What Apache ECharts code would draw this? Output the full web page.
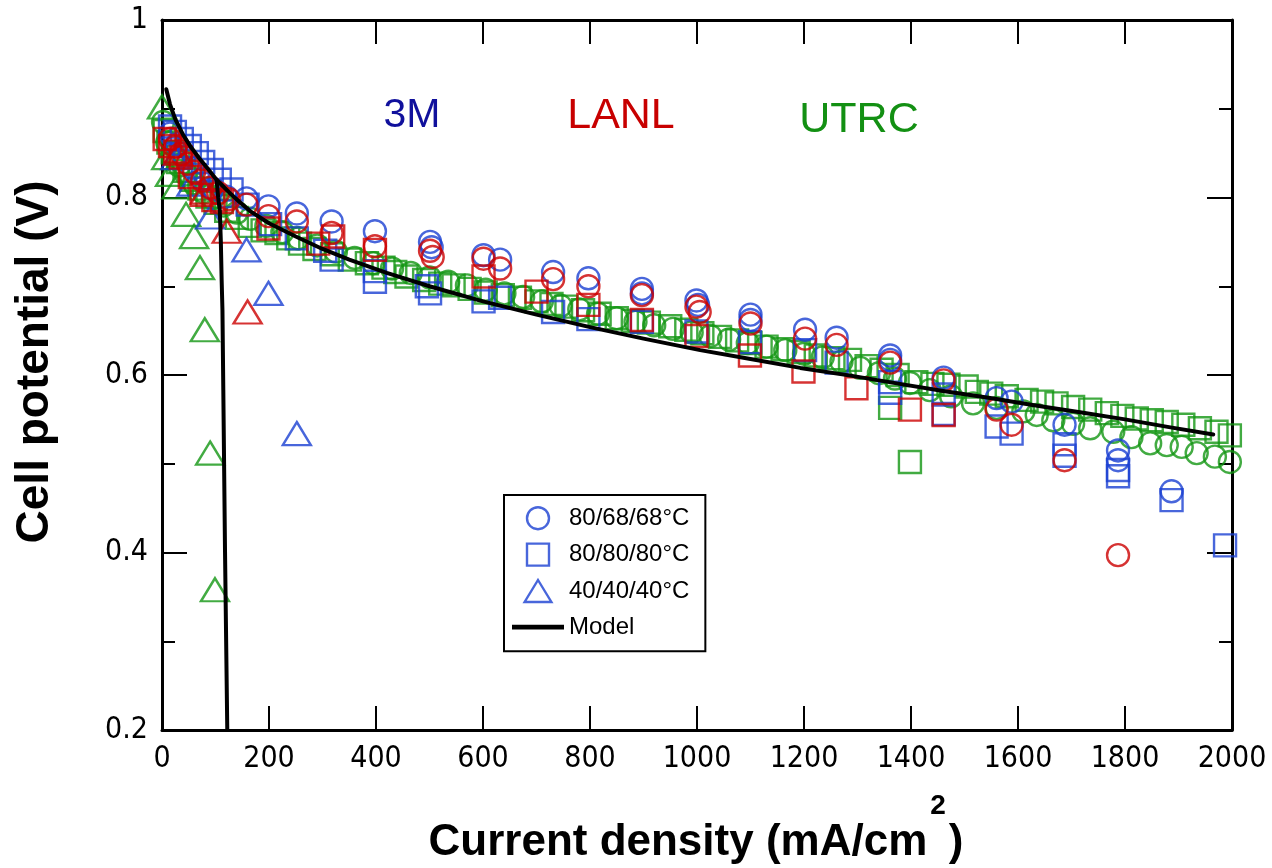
<!DOCTYPE html>
<html>
<head>
<meta charset="utf-8">
<title>Polarization curves</title>
<script src="https://cdn.jsdelivr.net/npm/echarts@6/dist/echarts.min.js"></script>
<style>
  html, body { margin: 0; padding: 0; background: #fff; }
  #chart { width: 1272px; height: 868px; }
</style>
</head>
<body>
<div id="chart"></div>
<script>
// Axis ticks
const xTicks = [0, 200, 400, 600, 800, 1000, 1200, 1400, 1600, 1800, 2000];
const yTicks = [0.2, 0.4, 0.6, 0.8, 1];

// Legend / condition labels
const conditions = ['80/68/68°C', '80/80/80°C', '40/40/40°C'];
const labs = ['3M', 'LANL', 'UTRC'];

// 3M  [current density mA/cm2, cell potential V]
const m3Circle = [[15,0.872],[28,0.860],[42,0.846],[58,0.833],[75,0.821],[95,0.810],[120,0.801],[158,0.799],[199,0.790],[252,0.782],[317,0.773],[398,0.762],[501,0.750],[504,0.744],[601,0.735],[632,0.730],[731,0.716],[797,0.709],[897,0.697],[897,0.692],[999,0.684],[1002,0.679],[1100,0.668],[1100,0.662],[1202,0.651],[1261,0.642],[1361,0.622],[1361,0.617],[1461,0.597],[1560,0.574],[1588,0.570],[1687,0.544],[1787,0.515],[1787,0.504],[1887,0.469]];
const m3Square = [[15,0.880],[24,0.874],[37,0.866],[52,0.858],[65,0.850],[77,0.840],[93,0.831],[108,0.820],[130,0.809],[160,0.792],[202,0.770],[252,0.754],[305,0.740],[317,0.730],[398,0.717],[398,0.705],[495,0.700],[501,0.692],[601,0.683],[632,0.687],[731,0.671],[797,0.663],[897,0.660],[999,0.649],[1099,0.637],[1202,0.628],[1261,0.614],[1361,0.592],[1361,0.580],[1461,0.578],[1461,0.556],[1560,0.542],[1588,0.534],[1687,0.522],[1687,0.509],[1787,0.493],[1787,0.486],[1887,0.459],[1987,0.408]];
const m3Tri = [[25,0.845],[55,0.815],[90,0.778],[158,0.741],[199,0.692],[252,0.534]];

// LANL
const lanlCircle = [[15,0.866],[25,0.857],[35,0.849],[48,0.838],[60,0.829],[75,0.819],[90,0.811],[105,0.805],[125,0.798],[158,0.792],[199,0.779],[252,0.773],[317,0.760],[398,0.745],[501,0.740],[506,0.733],[601,0.731],[632,0.720],[731,0.708],[797,0.700],[897,0.690],[999,0.677],[1005,0.671],[1100,0.658],[1202,0.641],[1261,0.634],[1361,0.614],[1461,0.594],[1560,0.561],[1588,0.544],[1687,0.504],[1787,0.397]];
const lanlSquare = [[5,0.866],[15,0.858],[25,0.852],[35,0.845],[52,0.823],[74,0.803],[96,0.797],[112,0.795],[199,0.765],[292,0.748],[320,0.756],[398,0.741],[601,0.711],[700,0.694],[797,0.679],[897,0.662],[999,0.644],[1099,0.622],[1199,0.604],[1298,0.585],[1398,0.561],[1461,0.555]];
const lanlTri = [[30,0.850],[80,0.806],[121,0.762],[160,0.671]];

// UTRC
const utrcCircle = [[2,0.885],[10,0.862],[20,0.847],[32,0.836],[45,0.826],[60,0.816],[78,0.806],[95,0.799],[115,0.791],[140,0.783],[165,0.776],[195,0.768],[225,0.761],[255,0.754],[290,0.746],[325,0.739],[360,0.732],[395,0.726],[430,0.720],[465,0.715],[500,0.710],[535,0.705],[570,0.701],[605,0.696],[640,0.692],[675,0.688],[710,0.683],[745,0.678],[780,0.674],[815,0.669],[850,0.664],[885,0.660],[920,0.656],[955,0.652],[990,0.648],[1025,0.644],[1060,0.640],[1095,0.636],[1130,0.632],[1165,0.628],[1200,0.624],[1235,0.620],[1270,0.615],[1305,0.608],[1340,0.602],[1370,0.596],[1398,0.591],[1435,0.583],[1475,0.576],[1516,0.568],[1560,0.563],[1610,0.559],[1635,0.555],[1666,0.549],[1703,0.545],[1735,0.540],[1778,0.536],[1812,0.530],[1847,0.523],[1878,0.521],[1906,0.519],[1934,0.512],[1968,0.508],[1996,0.502]];
const utrcSquare = [[5,0.875],[12,0.862],[20,0.851],[30,0.840],[42,0.830],[55,0.820],[70,0.810],[85,0.801],[100,0.794],[120,0.785],[140,0.777],[164,0.768],[188,0.763],[214,0.760],[236,0.754],[258,0.748],[285,0.742],[318,0.736],[351,0.730],[383,0.726],[414,0.721],[436,0.716],[457,0.711],[490,0.707],[520,0.703],[545,0.701],[575,0.697],[605,0.693],[637,0.690],[669,0.687],[700,0.683],[728,0.680],[756,0.677],[787,0.673],[818,0.669],[850,0.664],[880,0.661],[910,0.659],[950,0.655],[980,0.651],[1010,0.647],[1043,0.643],[1075,0.639],[1100,0.636],[1130,0.632],[1160,0.629],[1190,0.626],[1222,0.622],[1255,0.619],[1286,0.617],[1317,0.610],[1345,0.606],[1361,0.563],[1375,0.600],[1398,0.502],[1410,0.592],[1440,0.590],[1470,0.589],[1504,0.587],[1523,0.581],[1550,0.579],[1579,0.576],[1616,0.572],[1645,0.570],[1672,0.568],[1703,0.564],[1735,0.561],[1766,0.557],[1795,0.554],[1822,0.551],[1850,0.549],[1878,0.547],[1909,0.544],[1940,0.540],[1971,0.536],[1996,0.532]];
const utrcTri = [[0,0.902],[8,0.845],[15,0.826],[27,0.812],[45,0.781],[60,0.756],[71,0.721],[80,0.651],[90,0.512],[99,0.358]];

// Model curves: main polarization curve and the mass-transport-limited branch
const modelMain = [[8,0.922],[15,0.905],[25,0.888],[40,0.870],[55,0.856],[70,0.844],[85,0.833],[102,0.820],[125,0.806],[145,0.795],[164,0.785],[200,0.771],[250,0.756],[300,0.742],[350,0.730],[420,0.715],[500,0.700],[600,0.683],[700,0.668],[800,0.654],[900,0.641],[1006,0.628],[1100,0.618],[1193,0.608],[1290,0.599],[1379,0.590],[1460,0.582],[1548,0.574],[1630,0.566],[1716,0.558],[1800,0.550],[1885,0.541],[1965,0.533]];
const modelLimit = [[102,0.820],[105,0.800],[108,0.786],[110,0.750],[111.5,0.707],[113,0.673],[114.6,0.583],[117.8,0.401],[122,0.200]];

const BLUE = '#1a40d2';
const RED = '#cc0000';
const GREEN = '#139613';
const FONT = '"Liberation Sans", Arial, Helvetica, sans-serif';
const NARROW = '"Liberation Sans Narrow", "Arial Narrow", "DejaVu Sans Condensed", sans-serif';

function markerSeries(name, data, shape, color) {
  const size = shape === 'triangle' ? [28, 23] : 22;
  const sym = shape === 'rect' ? 'path://M0,0H20V20H0Z' : shape;
  return {
    type: 'scatter',
    name: name,
    data: data,
    symbol: sym,
    symbolSize: size,
    silent: true,
    itemStyle: { color: 'rgba(0,0,0,0)', borderColor: color, borderWidth: 2.4 },
    emphasis: { disabled: true }
  };
}

function modelSeries(data) {
  return {
    type: 'line',
    name: 'Model',
    data: data,
    symbol: 'none',
    showSymbol: false,
    smooth: false,
    silent: true,
    z: 5,
    lineStyle: { color: '#000', width: 4, join: 'round', cap: 'round' },
    emphasis: { disabled: true }
  };
}

const series = [
  markerSeries('UTRC ' + conditions[0], utrcCircle, 'circle', GREEN),
  markerSeries('UTRC ' + conditions[1], utrcSquare, 'rect', GREEN),
  markerSeries('UTRC ' + conditions[2], utrcTri, 'triangle', GREEN),
  markerSeries(conditions[0], m3Circle, 'circle', BLUE),
  markerSeries(conditions[1], m3Square, 'rect', BLUE),
  markerSeries(conditions[2], m3Tri, 'triangle', BLUE),
  markerSeries('LANL ' + conditions[0], lanlCircle, 'circle', RED),
  markerSeries('LANL ' + conditions[1], lanlSquare, 'rect', RED),
  markerSeries('LANL ' + conditions[2], lanlTri, 'triangle', RED),
  modelSeries(modelMain),
  modelSeries(modelLimit)
];

const axisLine = { show: true, onZero: false, lineStyle: { color: '#000', width: 3 } };
const tickStyle = { color: '#000', width: 2 };

function xAxisDef(pos, showLabels) {
  return {
    type: 'value', position: pos, min: xTicks[0], max: xTicks[xTicks.length - 1], interval: 200,
    axisLine: axisLine,
    axisTick: { show: true, inside: true, length: 24, lineStyle: tickStyle },
    axisLabel: { show: showLabels, color: '#000', fontSize: 30, fontFamily: NARROW, margin: 14,
      formatter: v => String(v) },
    splitLine: { show: false }
  };
}
function yAxisDef(pos, showLabels) {
  return {
    type: 'value', position: pos, min: yTicks[0], max: yTicks[yTicks.length - 1], interval: 0.2,
    axisLine: axisLine,
    axisTick: { show: true, inside: true, length: 25, lineStyle: tickStyle },
    minorTick: { show: true, splitNumber: 2, length: 13, lineStyle: tickStyle },
    axisLabel: {
      show: showLabels, color: '#000', fontSize: 30, fontFamily: NARROW, margin: 14,
      formatter: v => (Math.abs(v - 1) < 1e-9 ? '1' : v.toFixed(1))
    },
    splitLine: { show: false },
    minorSplitLine: { show: false }
  };
}

const chart = echarts.init(document.getElementById('chart'), null, { renderer: 'canvas' });

// Lay out the x-axis title with its superscript
const meas = document.createElement('canvas').getContext('2d');
const titleMain = 'Current density (mA/cm';
const titleSup = '2';
const titleEnd = ')';
meas.font = 'bold 44px ' + FONT;
const wMain = meas.measureText(titleMain).width;
const wEnd = meas.measureText(titleEnd).width;
meas.font = 'bold 28px ' + FONT;
const wSup = meas.measureText(titleSup).width;
const xTitleCenter = 696;
const xTitleStart = xTitleCenter - (wMain + wSup + wEnd + 6) / 2;

function txt(text, x, y, size, color, weight, extra) {
  return Object.assign({
    type: 'text', x: x, y: y, silent: true,
    style: {
      text: text, fill: color, fontSize: size, fontWeight: weight || 'normal', fontFamily: FONT,
      align: 'center', verticalAlign: 'middle'
    }
  }, extra || {});
}

const graphics = [
  txt(labs[0], 412, 116, 41, '#10109c'),
  txt(labs[1], 621, 116, 43, '#c80000'),
  txt(labs[2], 859, 120, 43, '#139013'),
  txt('Cell potential (V)', 35, 362, 46, '#000', 'bold', { rotation: Math.PI / 2 }),
  { type: 'text', x: xTitleStart, y: 843, silent: true,
    style: { text: titleMain, fill: '#000', fontSize: 44, fontWeight: 'bold', fontFamily: FONT, align: 'left', verticalAlign: 'middle' } },
  { type: 'text', x: xTitleStart + wMain + 3, y: 806, silent: true,
    style: { text: titleSup, fill: '#000', fontSize: 28, fontWeight: 'bold', fontFamily: FONT, align: 'left', verticalAlign: 'middle' } },
  { type: 'text', x: xTitleStart + wMain + wSup + 6, y: 843, silent: true,
    style: { text: titleEnd, fill: '#000', fontSize: 44, fontWeight: 'bold', fontFamily: FONT, align: 'left', verticalAlign: 'middle' } }
];

const option = {
  animation: false,
  backgroundColor: '#fff',
  grid: { left: 162, top: 20, right: 40, bottom: 138, containLabel: false },
  xAxis: [xAxisDef('bottom', true), xAxisDef('top', false)],
  yAxis: [yAxisDef('left', true), yAxisDef('right', false)],
  legend: {
    orient: 'vertical',
    left: 504, top: 495,
    padding: [11, 16, 12, 8],
    itemWidth: 52, itemHeight: 22, itemGap: 12,
    borderColor: '#000', borderWidth: 2,
    selectedMode: false,
    symbolKeepAspect: true,
    textStyle: { color: '#000', fontSize: 24, fontFamily: FONT },
    data: [
      { name: conditions[0], icon: 'circle', itemStyle: { color: 'rgba(0,0,0,0)', borderColor: BLUE, borderWidth: 2.4 } },
      { name: conditions[1], icon: 'path://M0,0H20V20H0Z', itemStyle: { color: 'rgba(0,0,0,0)', borderColor: BLUE, borderWidth: 2.4 } },
      { name: conditions[2], icon: 'path://M14,0L28,23L0,23Z', itemStyle: { color: 'rgba(0,0,0,0)', borderColor: BLUE, borderWidth: 2.4 } },
      { name: 'Model', icon: 'path://M0,0H44V4H0Z', itemStyle: { color: '#000', borderWidth: 0 } }
    ]
  },
  graphic: graphics,
  series: series
};

chart.setOption(option);
</script>
</body>
</html>
